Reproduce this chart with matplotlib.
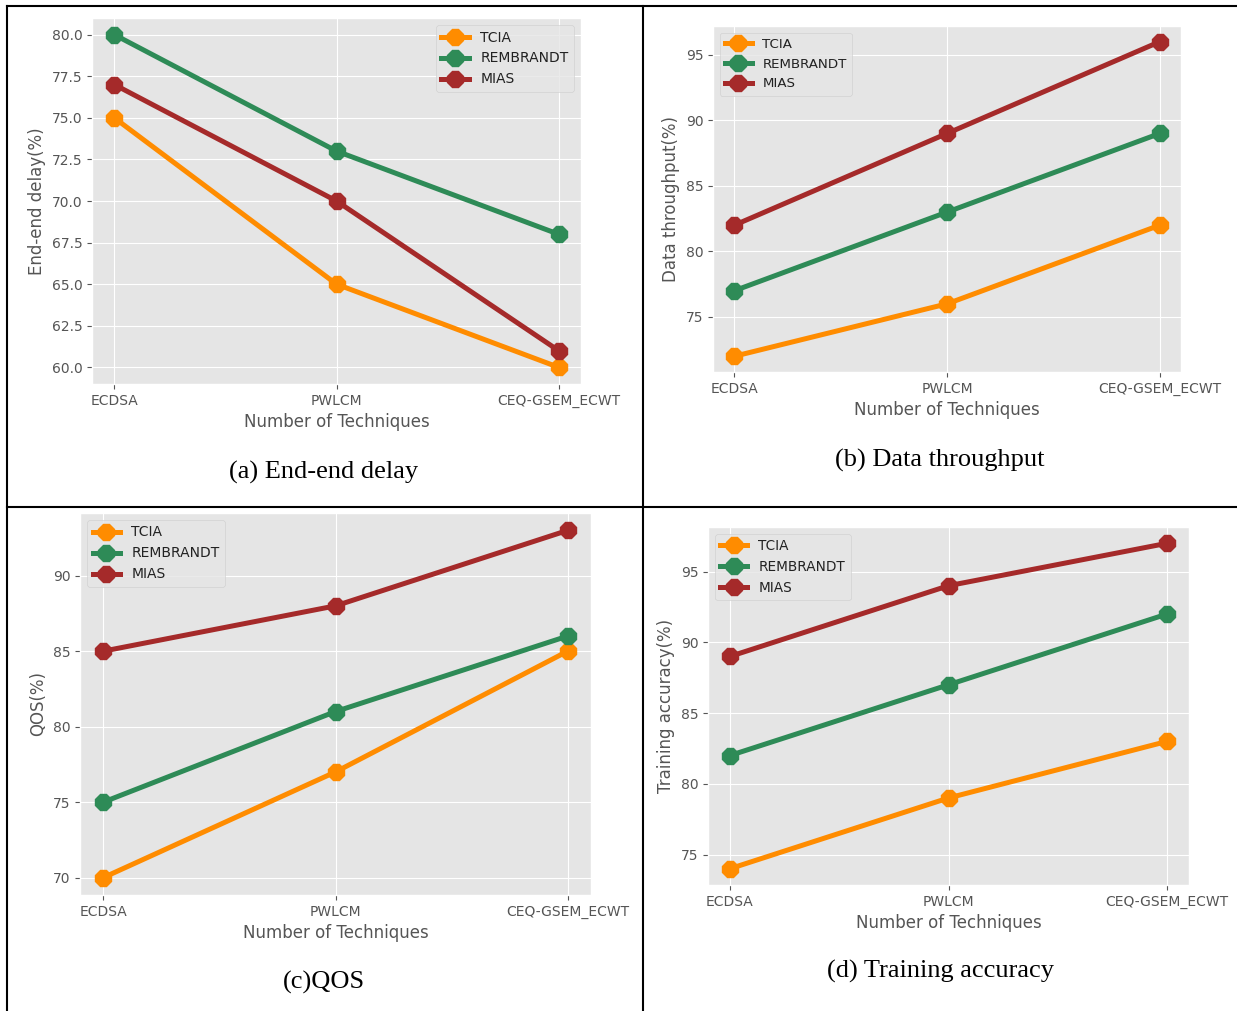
import matplotlib
matplotlib.use("Agg")
import matplotlib.pyplot as plt
from matplotlib.lines import Line2D

plt.style.use("ggplot")

techniques = ["ECDSA", "PWLCM", "CEQ-GSEM_ECWT"]
series_names = ["TCIA", "REMBRANDT", "MIAS"]

delay_tcia = [75, 65, 60]
delay_rembrandt = [80, 73, 68]
delay_mias = [77, 70, 61]

thr_tcia = [72, 76, 82]
thr_rembrandt = [77, 83, 89]
thr_mias = [82, 89, 96]

qos_tcia = [70, 77, 85]
qos_rembrandt = [75, 81, 86]
qos_mias = [85, 88, 93]

acc_tcia = [74, 79, 83]
acc_rembrandt = [82, 87, 92]
acc_mias = [89, 94, 97]

delay_ticks = [60.0, 62.5, 65.0, 67.5, 70.0, 72.5, 75.0, 77.5, 80.0]
thr_ticks = [75, 80, 85, 90, 95]
qos_ticks = [70, 75, 80, 85, 90]
acc_ticks = [75, 80, 85, 90, 95]

colors = ["darkorange", "seagreen", "brown"]

W, H = 1237, 1011
fig = plt.figure(figsize=(W / 100, H / 100), dpi=100, facecolor="white")


def px_axes(x0, y0, x1, y1):
    return fig.add_axes([x0 / W, 1 - y1 / H, (x1 - x0) / W, (y1 - y0) / H])


panels = [
    dict(box=(92, 18, 581, 384), data=[delay_tcia, delay_rembrandt, delay_mias],
         ticks=delay_ticks, fmt="{:.1f}", ylabel="End-end delay(%)", loc="upper right",
         caption="(a) End-end delay", cap=(324, 472), lfs=10),
    dict(box=(713, 26, 1181, 372), data=[thr_tcia, thr_rembrandt, thr_mias],
         ticks=thr_ticks, fmt="{:d}", ylabel="Data throughput(%)", loc="upper left",
         caption="(b) Data throughput", cap=(940, 460), lfs=9.6),
    dict(box=(80, 513, 591, 895), data=[qos_tcia, qos_rembrandt, qos_mias],
         ticks=qos_ticks, fmt="{:d}", ylabel="QOS(%)", loc="upper left",
         caption="(c)QOS", cap=(324, 982), lfs=10),
    dict(box=(708, 527, 1189, 885), data=[acc_tcia, acc_rembrandt, acc_mias],
         ticks=acc_ticks, fmt="{:d}", ylabel="Training accuracy(%)", loc="upper left",
         caption="(d) Training accuracy", cap=(940, 971), lfs=9.8),
]

for p in panels:
    ax = px_axes(*p["box"])
    for name, vals, c in zip(series_names, p["data"], colors):
        ax.plot(techniques, vals, color=c, marker="8", markersize=12, linewidth=3.6, label=name)
    ax.set_yticks(p["ticks"])
    ax.set_yticklabels([p["fmt"].format(t) for t in p["ticks"]])
    ax.tick_params(axis="both", labelsize=10, colors="#555555", labelcolor="#555555")
    ax.set_xlabel("Number of Techniques", fontsize=12, color="#555555")
    ax.set_ylabel(p["ylabel"], fontsize=12, color="#555555")
    leg = ax.legend(loc=p["loc"], fontsize=p["lfs"])
    for t in leg.get_texts():
        t.set_color("#222222")
    fig.text(p["cap"][0] / W, 1 - p["cap"][1] / H, p["caption"], ha="center", va="center",
             fontsize=19, family="Liberation Serif", color="black")

# table border lines
lw = 1.5
fig.add_artist(Line2D([7 / W, 1], [1 - 6 / H, 1 - 6 / H], color="black", lw=lw, transform=fig.transFigure))
fig.add_artist(Line2D([7 / W, 1], [1 - 507 / H, 1 - 507 / H], color="black", lw=lw, transform=fig.transFigure))
fig.add_artist(Line2D([7 / W, 7 / W], [0, 1 - 6 / H], color="black", lw=lw, transform=fig.transFigure))
fig.add_artist(Line2D([643 / W, 643 / W], [0, 1 - 6 / H], color="black", lw=lw, transform=fig.transFigure))

fig.savefig("out.png", dpi=100, facecolor="white")
